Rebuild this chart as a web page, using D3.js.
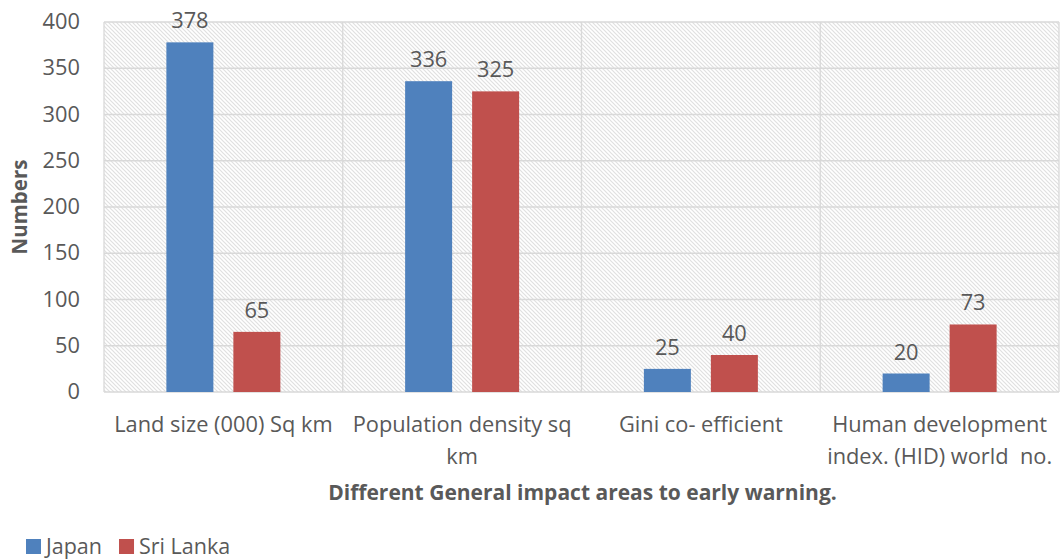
<!DOCTYPE html>
<html>
<head>
<meta charset="utf-8">
<script src="https://cdn.jsdelivr.net/npm/d3@7"></script>
<style>
  body { margin: 0; background: #fff; }
  svg { display: block; font-family: "Open Sans", sans-serif; }
</style>
</head>
<body>
<svg id="chart" width="1061" height="560"></svg>
<script>
const categories = [
  ["Land size (000) Sq km"],
  ["Population density sq", "km"],
  ["Gini co- efficient"],
  ["Human development", "index. (HID) world  no."]
];
const seriesNames = ["Japan", "Sri Lanka"];
const japan = [378, 336, 25, 20];
const sriLanka = [65, 325, 40, 73];
const yTicks = [0, 50, 100, 150, 200, 250, 300, 350, 400];
const colors = ["#4F81BD", "#C0504D"];

const svg = d3.select("#chart");
const margin = { left: 104, right: 2, top: 22, bottom: 168 };
const W = 1061, H = 560;
const innerW = W - margin.left - margin.right;
const innerH = H - margin.top - margin.bottom;
const textColor = "#595959";
const gridColor = "#d9d9d9";
const fs = 21.8;

// hatched plot background
const defs = svg.append("defs");
const pat = defs.append("pattern")
  .attr("id", "hatch").attr("patternUnits", "userSpaceOnUse")
  .attr("width", 4).attr("height", 4);
pat.append("rect").attr("width", 4).attr("height", 4).attr("fill", "#fff");
pat.append("path").attr("d", "M-1,-1 L5,5 M-1,3 L1,5 M3,-1 L5,1")
  .attr("stroke", "#e0e0e0").attr("stroke-width", 1.2);

const g = svg.append("g").attr("transform", `translate(${margin.left},${margin.top})`);

const x0 = d3.scaleBand().domain(d3.range(categories.length)).range([0, innerW]).padding(0);
const y = d3.scaleLinear().domain([0, 400]).range([innerH, 0]);

g.append("rect").attr("width", innerW).attr("height", innerH).attr("fill", "url(#hatch)");

// horizontal gridlines
g.selectAll(".hgrid").data(yTicks).join("line")
  .attr("x1", 0).attr("x2", innerW)
  .attr("y1", d => y(d)).attr("y2", d => y(d))
  .attr("stroke", gridColor).attr("stroke-width", 1.3);

// vertical gridlines at category boundaries
const bounds = d3.range(categories.length + 1).map(i => i * x0.bandwidth());
g.selectAll(".vgrid").data(bounds).join("line")
  .attr("x1", d => d).attr("x2", d => d)
  .attr("y1", 0).attr("y2", innerH)
  .attr("stroke", gridColor).attr("stroke-width", 1.3);

// y tick labels
const yAxis = d3.axisLeft(y).tickValues(yTicks).tickSize(0).tickPadding(24);
const ya = g.append("g").call(yAxis);
ya.select(".domain").remove();
ya.selectAll("text").attr("font-size", fs).attr("fill", textColor).attr("dy", "0.3em")
  .attr("font-family", "'Open Sans', sans-serif");

// bars
const barW = 47, gap = 20;
const x1 = d3.scaleBand().domain([0, 1]).range([0, barW * 2 + gap]).paddingInner(gap / (barW + gap)).paddingOuter(0);
const data = categories.map((c, i) => [japan[i], sriLanka[i]]);
const groups = g.selectAll(".cat").data(data).join("g")
  .attr("transform", (d, i) => `translate(${x0(i) + (x0.bandwidth() - (barW * 2 + gap)) / 2},0)`);
groups.selectAll("rect").data(d => d).join("rect")
  .attr("x", (d, j) => x1(j)).attr("width", x1.bandwidth())
  .attr("y", d => y(d)).attr("height", d => innerH - y(d))
  .attr("fill", (d, j) => colors[j]);
groups.selectAll("text").data(d => d).join("text")
  .attr("x", (d, j) => x1(j) + x1.bandwidth() / 2)
  .attr("y", d => y(d) - 14)
  .attr("text-anchor", "middle").attr("font-size", fs).attr("fill", textColor)
  .text(d => d);

// category labels
const catG = g.selectAll(".catlabel").data(categories).join("text")
  .attr("text-anchor", "middle").attr("font-size", fs).attr("fill", textColor)
  .attr("transform", (d, i) => `translate(${x0(i) + x0.bandwidth() / 2},${innerH + 40})`);
catG.selectAll("tspan").data(d => d).join("tspan")
  .attr("x", 0).attr("dy", (d, k) => k === 0 ? 0 : 32).attr("xml:space", "preserve")
  .style("white-space", "pre").text(d => d);

// axis titles
svg.append("text").attr("x", margin.left + innerW / 2 + 1).attr("y", 500)
  .attr("text-anchor", "middle").attr("font-size", 21).attr("font-weight", "bold")
  .attr("fill", textColor).text("Different General impact areas to early warning.");
svg.append("text").attr("transform", `translate(27,${margin.top + innerH / 2}) rotate(-90)`)
  .attr("text-anchor", "middle").attr("font-size", 20.5).attr("font-weight", "bold")
  .attr("fill", textColor).text("Numbers");

// legend
const leg = svg.append("g").attr("transform", "translate(26,539)");
let lx = 0;
seriesNames.forEach((name, i) => {
  leg.append("rect").attr("x", lx).attr("y", 0).attr("width", 15).attr("height", 15).attr("fill", colors[i]);
  const t = leg.append("text").attr("x", lx + 20).attr("y", 15).attr("font-size", 21.5)
    .attr("fill", textColor).text(name);
  lx += 20 + t.node().getComputedTextLength() + 17;
});
</script>
</body>
</html>
